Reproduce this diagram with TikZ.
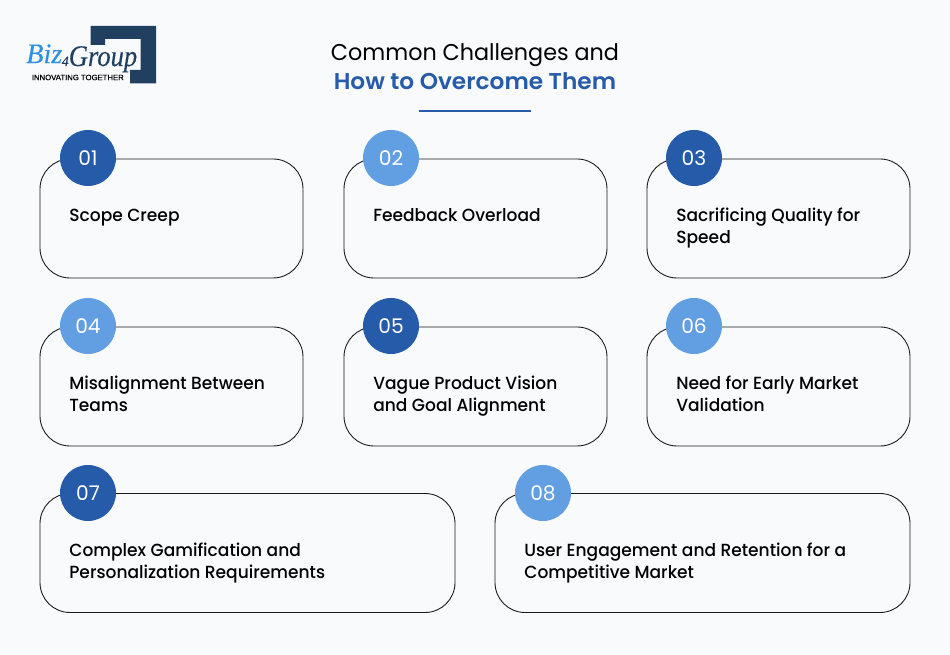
\documentclass[tikz,border=0pt]{standalone}
\usepackage{fontspec}
\setmainfont{Poppins}
\newfontfamily\cardfont[FakeStretch=0.97]{Poppins Medium}
\newfontfamily\headfont[FakeStretch=0.975]{Poppins}
\newfontfamily\headbold[FakeStretch=1.017]{Poppins SemiBold}
\newfontfamily\logofont[FakeBold=0.2]{Liberation Serif}
\newfontfamily\groupfont[FakeStretch=0.89,FakeBold=0.2]{Liberation Serif}
\newfontfamily\tagfont[FakeBold=0.5]{Liberation Sans}
\usepackage{tikz-network}

\definecolor{pagebg}{HTML}{F8FAFC}
\definecolor{darkblue}{HTML}{255BA8}
\definecolor{lightblue}{HTML}{629FE2}
\definecolor{logodark}{HTML}{213F5F}
\definecolor{logoblue}{HTML}{2F8FE0}

\tikzset{
  card/.style={draw=black!90, line width=0.5pt, rounded corners=0.6cm, minimum height=2.38cm, inner sep=0pt},
  cardtext/.style={anchor=base west, align=left, font=\cardfont\fontsize{10}{12.9}\selectfont, inner sep=0pt, text=black},
  badge/.style={draw=none},
}

\begin{document}
\begin{tikzpicture}

\SetVertexStyle[LineWidth=0, TextFont=\fontsize{11.5}{13}\selectfont, TextColor=white]

\useasboundingbox[fill=pagebg] (0,0) rectangle (19,13.08);

% logo
\fill[logodark] (1.81,12.56) -- (3.12,12.56) -- (3.12,11.41) -- (2.6,11.41) -- (2.6,11.68) -- (2.81,11.68) -- (2.81,12.3) -- (2.1,12.3) -- (2.1,12.18) -- (1.81,12.18) -- cycle;
\node[inner sep=0pt, anchor=base west, text=logodark] (logoname) at (0.52,11.76) {\raisebox{1.7pt}{\logofont\itshape\fontsize{16}{17}\selectfont\textcolor{logoblue}{Biz}}\kern-0.3pt{\logofont\itshape\fontsize{8}{9}\selectfont 4}{\groupfont\itshape\fontsize{17}{18}\selectfont Group}};
\node[inner sep=0pt, anchor=west] (logotag) at (0.63,11.53) {\tagfont\fontsize{4.4}{5}\selectfont INNOVATING TOGETHER};

% title
\node[inner sep=0pt, anchor=base] (titletop) at (9.5,11.86) {\headfont\fontsize{13}{16}\selectfont Common Challenges and};
\node[inner sep=0pt, anchor=base, text=darkblue] (titlebottom) at (9.5,11.28) {\headbold\fontsize{13}{16}\selectfont How to Overcome Them};
\coordinate (ruleleft) at (8.38,10.86);
\coordinate (ruleright) at (10.62,10.86);
\draw[darkblue, line width=1.1pt] (ruleleft) -- (ruleright);

% cards
\node[card, minimum width=5.26cm] (card1) at (3.43,8.71) {};
\node[card, minimum width=5.26cm] (card2) at (9.51,8.71) {};
\node[card, minimum width=5.26cm] (card3) at (15.57,8.71) {};
\node[card, minimum width=5.26cm] (card4) at (3.43,5.35) {};
\node[card, minimum width=5.26cm] (card5) at (9.51,5.35) {};
\node[card, minimum width=5.26cm] (card6) at (15.57,5.35) {};
\node[card, minimum width=8.30cm] (card7) at (4.95,2.02) {};
\node[card, minimum width=8.30cm] (card8) at (14.05,2.02) {};

% badges
\Vertex[x=1.76,y=9.92,size=1.12,color=darkblue,label=01,style=badge]{badge1}
\Vertex[x=7.82,y=9.92,size=1.12,color=lightblue,label=02,style=badge]{badge2}
\Vertex[x=13.88,y=9.92,size=1.12,color=darkblue,label=03,style=badge]{badge3}
\Vertex[x=1.76,y=6.56,size=1.12,color=lightblue,label=04,style=badge]{badge4}
\Vertex[x=7.82,y=6.56,size=1.12,color=darkblue,label=05,style=badge]{badge5}
\Vertex[x=13.88,y=6.56,size=1.12,color=lightblue,label=06,style=badge]{badge6}
\Vertex[x=1.76,y=3.22,size=1.12,color=darkblue,label=07,style=badge]{badge7}
\Vertex[x=10.86,y=3.22,size=1.12,color=lightblue,label=08,style=badge]{badge8}

% labels
\node[cardtext] (text1) at (1.38,8.64) {Scope Creep};
\node[cardtext] (text2) at (7.46,8.64) {Feedback Overload};
\node[cardtext] (text3) at (13.52,8.2) {Sacrificing Quality for\\Speed};
\node[cardtext] (text4) at (1.38,4.84) {Misalignment Between\\Teams};
\node[cardtext] (text5) at (7.46,4.84) {Vague Product Vision\\and Goal Alignment};
\node[cardtext] (text6) at (13.52,4.84) {Need for Early Market\\Validation};
\node[cardtext] (text7) at (1.38,1.5) {Complex Gamification and\\Personalization Requirements};
\node[cardtext] (text8) at (10.48,1.5) {User Engagement and Retention for a\\Competitive Market};

\end{tikzpicture}
\end{document}
